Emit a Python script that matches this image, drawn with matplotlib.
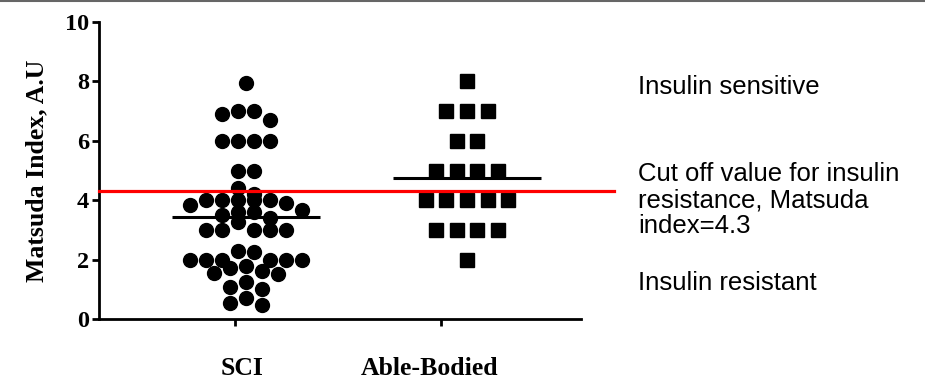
import numpy as np
import matplotlib.pyplot as plt
from matplotlib.lines import Line2D

# Matsuda index values
groups = ["SCI", "Able-Bodied"]
sci_vals = [7.94, 7.0, 7.0, 6.91, 6.70,
            6.0, 6.0, 6.0, 6.0,
            5.0, 5.0,
            4.40, 4.22, 4.0, 4.0, 4.0, 4.0, 4.0, 3.89, 3.85, 3.68,
            3.6, 3.6, 3.51, 3.41, 3.25,
            2.98, 2.98, 2.98, 2.98, 2.98,
            2.30, 2.25, 1.99, 1.99, 1.99, 1.99, 1.99, 1.99,
            1.80, 1.73, 1.63, 1.56, 1.52,
            1.23, 1.09, 1.0,
            0.70, 0.53, 0.47]
ab_vals = [8, 7, 7, 7, 6, 6, 5, 5, 5, 5, 4, 4, 4, 4, 4, 3, 3, 3, 3, 2]
cutoff = 4.3

side_notes = ["Insulin sensitive",
              "Cut off value for insulin\nresistance, Matsuda\nindex=4.3",
              "Insulin resistant"]
note_y = [7.8, 4.0, 1.2]


# Prism-like scatter: points grouped in rows, each row centred on the group
def swarm_offsets(vals, row_h, gap):
    vals = np.asarray(vals, dtype=float)
    order = np.argsort(-vals, kind="stable")
    offsets = np.zeros(len(vals))

    def flush(row):
        n = len(row)
        slots = (np.arange(n) - (n - 1) / 2) * gap
        slots = slots[np.argsort(np.abs(slots), kind="stable")]
        for idx, s in zip(row, slots):
            offsets[idx] = s

    row = []
    for i in order:
        if row and vals[row[0]] - vals[i] > row_h:
            flush(row)
            row = []
        row.append(i)
    flush(row)
    return offsets


serif = "Liberation Serif"
sans = "Liberation Sans"

fig = plt.figure(figsize=(9.25, 3.79), dpi=100)
ax = fig.add_axes([99 / 925, 60 / 379, 482 / 925, 297 / 379])

xmin, xmax = -0.665, 1.516
ax.set_xlim(xmin, xmax)
ax.set_ylim(0, 10)
px_per_x = ax.bbox.width / (xmax - xmin)

# SCI circles
sci_x = 0 + swarm_offsets(sci_vals, 0.35, 16) / px_per_x
ax.plot(sci_x, sci_vals, "o", color="black", markersize=10, zorder=3)

# Able-bodied squares
ab_x = 1 + swarm_offsets(ab_vals, 0.35, 20.6) / px_per_x
ax.plot(ab_x, ab_vals, "s", color="black", markersize=10.5, zorder=3)

# mean lines
for pos, vals in zip([0, 1], [sci_vals, ab_vals]):
    ax.hlines(np.mean(vals), pos - 0.333, pos + 0.333, color="black", lw=2.2, zorder=4)

# cut-off line, runs past the axis end
ax.plot([xmin, 1.665], [cutoff, cutoff], color="#ff0000", lw=2.3, clip_on=False, zorder=5)

for txt, y in zip(side_notes, note_y):
    ax.text(1.775, y, txt, fontsize=18.5, family=sans, va="center", ha="left",
            linespacing=1.12, clip_on=False)

# axes styling
for s in ["top", "right"]:
    ax.spines[s].set_visible(False)
for s in ["left", "bottom"]:
    ax.spines[s].set_linewidth(2.0)

ax.set_yticks(range(0, 11, 2))
ax.set_yticklabels([str(v) for v in range(0, 11, 2)], fontsize=17.5,
                   family=serif, fontweight="bold")
ax.tick_params(axis="y", length=5, width=2.0, pad=2)
ax.set_xticks([-0.05, 0.882])
ax.set_xticklabels([])
ax.tick_params(axis="x", length=5, width=2.0)

for x, g in zip([-0.016, 0.833], groups):
    ax.text(x, -0.165, g, transform=ax.get_xaxis_transform(), ha="center", va="center",
            fontsize=18.5, family=serif, fontweight="bold")

ax.set_ylabel("Matsuda Index, A.U", fontsize=18.5, family=serif, fontweight="bold",
              labelpad=12)

# thin gray rule along the top edge of the image
fig.add_artist(Line2D([0, 1], [0.997, 0.997], transform=fig.transFigure,
                      color="#666666", lw=1.5))

fig.savefig("out.png", dpi=100)
